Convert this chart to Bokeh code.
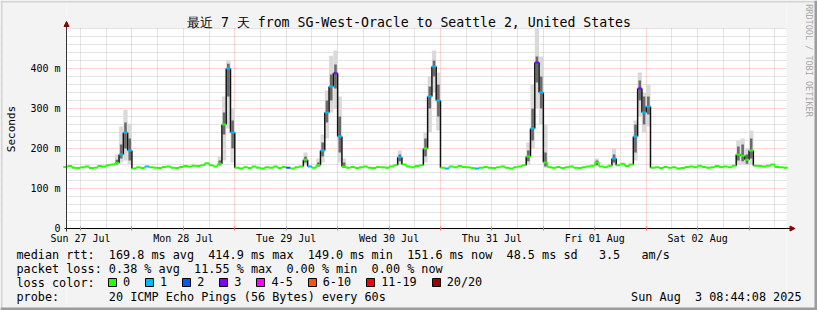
import re
from math import pi
import numpy as np
from bokeh.plotting import figure
from bokeh.models import (ColumnDataSource, FixedTicker, Grid, Legend, LegendItem,
                          Arrow, NormalHead, Range1d, Label)
from bokeh.embed import file_html
from bokeh.resources import INLINE

# ---------------- data ----------------
# time in hours since Sun 27 Jul 2025 00:00
START_H = 8 + 44 / 60 + 8 / 3600          # Sun Jul 27 08:44:08
END_H = START_H + 168                      # Sun Aug  3 08:44:08

hours = list(range(8, 177))
median_ms = [
    154, 156, 152, 151, 153, 155, 151, 152, 156, 155, 158, 160, 164, 185, 240, 195,
    150, 153, 151, 155, 153, 152, 151, 154, 155, 152, 151, 154, 156, 155, 157, 156,
    158, 163, 158, 155, 162, 260, 400, 240,
    152, 150, 153, 151, 155, 152, 150, 153, 152, 155, 151, 154, 152, 150, 153, 155,
    172, 155, 152, 158, 195, 290, 355, 388,
    230, 155, 152, 154, 151, 153, 155, 152, 151, 154, 153, 152, 155, 158, 178, 160,
    155, 153, 156, 158, 200, 330, 405, 320,
    152, 150, 155, 153, 156, 154, 153, 151, 150, 152, 154, 152, 151, 153, 155, 152,
    150, 153, 155, 158, 180, 250, 415, 340,
    165, 153, 152, 154, 151, 153, 155, 152, 151, 153, 155, 157, 165, 155, 153, 157,
    175, 158, 162, 156, 160, 230, 350, 290,
    305, 152, 153, 151, 154, 152, 153, 150, 151, 154, 155, 153, 157, 154, 152, 153,
    156, 154, 155, 153, 157, 185, 182, 172,
    195, 157, 156, 155, 157, 160, 154, 153, 152,
]
loss_idx = [
    0, 0, 0, 0, 0, 0, 0, 0, 0, 0, 0, 0, 0, 1, 1, 1,
    0, 0, 0, 1, 0, 0, 0, 0, 0, 0, 0, 0, 0, 0, 0, 0, 0, 0, 0, 0, 0, 0, 1, 1,
    0, 0, 0, 0, 0, 0, 0, 0, 0, 0, 0, 0, 2, 0, 0, 0, 0, 1, 0, 0, 1, 1, 1, 3,
    1, 0, 0, 0, 0, 0, 0, 0, 0, 0, 0, 0, 0, 0, 1, 0, 0, 0, 0, 0, 0, 1, 1, 1,
    0, 1, 0, 0, 0, 0, 0, 0, 1, 0, 0, 0, 0, 0, 0, 0, 0, 0, 0, 0, 0, 1, 3, 1,
    0, 0, 0, 0, 0, 0, 0, 0, 0, 0, 0, 0, 0, 0, 0, 0, 1, 0, 0, 0, 0, 1, 3, 1,
    1, 0, 0, 0, 0, 0, 0, 0, 0, 0, 0, 0, 0, 0, 0, 0, 0, 0, 0, 0, 0, 0, 0, 0,
    0, 0, 0, 0, 0, 0, 0, 0, 0,
]

smoke_hours = [20, 21, 22, 23, 44, 45, 46, 47, 64, 67, 68, 69, 70, 71, 72, 73, 86,
               92, 93, 94, 95, 116, 117, 118, 119, 120, 132, 136, 141, 142, 143, 144,
               165, 166, 167, 168]
smoke_lo = [158, 165, 170, 160, 155, 170, 250, 165, 160, 153, 165, 225, 290, 300, 165, 150, 160,
            165, 240, 340, 245, 160, 200, 300, 260, 152, 155, 158, 170, 280, 240, 255,
            160, 160, 158, 160]
smoke_hi = [185, 255, 297, 262, 180, 330, 420, 300, 190, 175, 235, 345, 432, 445, 330, 175, 195,
            240, 380, 445, 390, 215, 360, 500, 430, 260, 175, 200, 270, 390, 340, 360,
            220, 225, 200, 245]
core_lo = [160, 175, 200, 170, 158, 235, 330, 200, 165, 155, 180, 265, 320, 350, 190, 152, 168,
           180, 300, 380, 280, 168, 220, 365, 300, 155, 158, 165, 190, 320, 260, 285,
           170, 168, 162, 175]
core_hi = [172, 210, 265, 225, 170, 290, 412, 270, 180, 165, 215, 320, 385, 410, 280, 165, 185,
           225, 355, 420, 360, 195, 300, 430, 380, 190, 170, 185, 260, 370, 330, 330,
           205, 210, 185, 225]

loss_labels = ["0", "1", "2", "3", "4-5", "6-10", "11-19", "20/20"]
loss_colors = ["#26ff00", "#00b8ff", "#0059ff", "#7e00ff", "#ff00ff", "#ff5500", "#ff0000", "#a10000"]

day_labels = ["Sun 27 Jul", "Mon 28 Jul", "Tue 29 Jul", "Wed 30 Jul",
              "Thu 31 Jul", "Fri 01 Aug", "Sat 02 Aug"]
y_ticks = [0, 100, 200, 300, 400]
y_tick_labels = ["0", "100 m", "200 m", "300 m", "400 m"]

title_text = "最近 7 天 from SG-West-Oracle to Seattle 2, United States"
line_rtt = "median rtt:  169.8 ms avg  414.9 ms max  149.0 ms min  151.6 ms now  48.5 ms sd   3.5   am/s"
line_loss = "packet loss: 0.38 % avg  11.55 % max  0.00 % min  0.00 % now"
line_color = "loss color:"
line_probe = "probe:       20 ICMP Echo Pings (56 Bytes) every 60s"
stamp = "Sun Aug  3 08:44:08 2025"
watermark = "RRDTOOL / TOBI OETIKER"
y_label = "Seconds"

MONO = "DejaVu Sans Mono"
BG = "#F3F3F3"

# ---------------- geometry (page pixels) ----------------
W, H = 817, 310
PX_H = 720 / 168            # pixels per hour
LEFT_PX = 66                # page x of START_H
BASE_PY = 228               # page y of 0 ms
UPP = 2.5                   # ms per pixel


def xv(px):
    return START_H + (px - LEFT_PX) / PX_H


def yv(py):
    return (BASE_PY - py) * UPP


X_MIN, X_MAX = xv(0), xv(W)
Y_MIN, Y_MAX = yv(H), yv(0)

p = figure(x_range=Range1d(X_MIN, X_MAX), y_range=Range1d(Y_MIN, Y_MAX),
           frame_width=W, frame_height=H,
           min_border_left=0, min_border_right=0, min_border_top=0, min_border_bottom=0,
           output_backend="svg", toolbar_location=None,
           background_fill_color="white", border_fill_color=BG,
           outline_line_color=None)
p.xgrid.visible = False
p.ygrid.visible = False

noon_ticks = [12 + 24 * d for d in range(7)]
midnight_ticks = [24 * d for d in range(1, 8)]
six_ticks = [h for h in range(6, 177, 6) if h % 24 != 0]
minor_y = [v for v in range(20, 501, 20) if v % 100 != 0] + [500]

minor_col, minor_alpha = "#b0b0b0", 0.7
major_col, major_alpha = "#ff0000", 0.33
p.add_layout(Grid(dimension=0, ticker=FixedTicker(ticks=six_ticks),
                  grid_line_color=minor_col, grid_line_alpha=minor_alpha, grid_line_dash="1 1"))
p.add_layout(Grid(dimension=1, ticker=FixedTicker(ticks=minor_y),
                  grid_line_color=minor_col, grid_line_alpha=minor_alpha, grid_line_dash="1 1"))
p.add_layout(Grid(dimension=0, ticker=FixedTicker(ticks=midnight_ticks),
                  grid_line_color=major_col, grid_line_alpha=major_alpha, grid_line_dash="1 1"))
p.add_layout(Grid(dimension=1, ticker=FixedTicker(ticks=y_ticks[1:]),
                  grid_line_color=major_col, grid_line_alpha=major_alpha, grid_line_dash="1 1"))

# grey page around the white 7-day / 0..500 canvas
top_edge = 500 + 0.5 * UPP
p.quad(left=[X_MIN, END_H, START_H, START_H], right=[START_H, X_MAX, END_H, END_H],
       bottom=[Y_MIN, Y_MIN, top_edge, Y_MIN], top=[Y_MAX, Y_MAX, Y_MAX, 0],
       fill_color=BG, line_color=None)
# 3-D shading of the page border
p.quad(left=[X_MIN, X_MIN], right=[X_MAX, xv(2)], bottom=[yv(2), Y_MIN], top=[Y_MAX, Y_MAX],
       fill_color="#d4d4d4", line_color=None)
p.quad(left=[X_MIN, xv(W - 3)], right=[X_MAX, X_MAX], bottom=[Y_MIN, Y_MIN], top=[yv(H - 3), Y_MAX],
       fill_color="#9c9c9c", line_color=None)

# x axis
xa = p.xaxis[0]
xa.fixed_location = 0
xa.bounds = (xv(64), xv(790))
xa.ticker = FixedTicker(ticks=noon_ticks, minor_ticks=midnight_ticks)
xa.major_label_overrides = {t: lab for t, lab in zip(noon_ticks, day_labels)}
xa.axis_line_color = "#000000"
xa.major_tick_line_color = "#999999"
xa.major_tick_out = 2
xa.major_tick_in = 2
xa.minor_tick_line_color = "#ff6666"
xa.minor_tick_out = 2
xa.minor_tick_in = 2
xa.major_label_standoff = 2
xa.major_label_text_font = MONO
xa.major_label_text_font_size = "10px"
xa.major_label_text_color = "#000000"

# y axis
ya = p.yaxis[0]
ya.fixed_location = START_H
ya.bounds = (yv(231), yv(25))
ya.ticker = FixedTicker(ticks=y_ticks)
ya.major_label_overrides = {t: lab for t, lab in zip(y_ticks, y_tick_labels)}
ya.axis_line_color = "#333333"
ya.major_tick_out = 0
ya.major_tick_in = 0
ya.minor_tick_line_color = None
ya.major_tick_line_color = None
ya.major_label_standoff = 6
ya.major_label_text_font = MONO
ya.major_label_text_font_size = "10px"
ya.major_label_text_color = "#000000"

# ---------------- smoke ----------------
sh = np.array(smoke_hours, float)
smoke_src = ColumnDataSource(dict(left=sh, right=sh + 1, lo=smoke_lo, hi=smoke_hi,
                                  clo=core_lo, chi=core_hi, cl=sh + 0.2, cr=sh + 0.8))
p.quad(left="left", right="right", bottom="lo", top="hi", source=smoke_src,
       fill_color="#dadada", line_color=None)
p.quad(left="cl", right="cr", bottom="clo", top="chi", source=smoke_src,
       fill_color="#6a6a6a", line_color=None)

# ---------------- median line ----------------
t = np.array(hours, float)
med = np.array(median_ms, float)
cols = [loss_colors[i] for i in loss_idx]
vcol = [loss_colors[0] if max(a, b) < 170 else "#111111" for a, b in zip(med[:-1], med[1:])]
p.segment(x0=t[1:], y0=med[:-1], x1=t[1:], y1=med[1:], line_color=vcol, line_width=1.5)
p.segment(x0=t, y0=med, x1=t + 1, y1=med, line_color=cols, line_width=2)

# ---------------- axis arrows ----------------
arrow_col = "#8b0000"
p.add_layout(Arrow(end=NormalHead(size=5, fill_color=arrow_col, line_color=arrow_col),
                   x_start=START_H, y_start=500, x_end=START_H, y_end=yv(21),
                   line_color="#333333", line_width=1))
p.add_layout(Arrow(end=NormalHead(size=5, fill_color=arrow_col, line_color=arrow_col),
                   x_start=END_H, y_start=0, x_end=xv(794.5), y_end=0,
                   line_color="#000000", line_width=1))


# ---------------- texts ----------------
def keep_spaces(s):
    return re.sub(r" {2,}", lambda m: "\u00a0" * len(m.group()), s)


def put(text, px, py, size, align="left", angle=0.0, color="#000000"):
    p.add_layout(Label(x=px, y=H - py, x_units="screen", y_units="screen",
                       text=keep_spaces(text), text_font=MONO, text_font_size=size,
                       text_align=align, text_baseline="middle", angle=angle,
                       text_color=color))


put(title_text, 408.5, 21.5, "13.2px", align="center")
put(y_label, 10.5, 128.5, "11px", align="center", angle=pi / 2)
put(line_rtt, 16, 254.3, "11.8px")
put(line_loss, 16, 268.3, "11.8px")
put(line_color, 16, 282.3, "11.8px")
put(line_probe, 16, 296.3, "11.8px")
put(stamp, 801, 296.3, "11.8px", align="right")
put(watermark, 808, 60, "8.5px", align="center", angle=-pi / 2, color="#a8a8a8")

# loss colour legend swatches (renderer holds no drawable rows)
swatch_src = ColumnDataSource(dict(left=[np.nan] * len(loss_colors), right=[np.nan] * len(loss_colors),
                                   top=[np.nan] * len(loss_colors), bottom=[np.nan] * len(loss_colors),
                                   color=loss_colors))
swatch = p.quad(left="left", right="right", top="top", bottom="bottom", source=swatch_src,
                fill_color="color", line_color="#000000", line_width=1)
items = [LegendItem(label=lab, renderers=[swatch], index=i) for i, lab in enumerate(loss_labels)]
legend = Legend(items=items, orientation="horizontal", location=(107, 21),
                glyph_width=10, glyph_height=10, label_standoff=6, spacing=14,
                padding=0, margin=0, border_line_color=None, background_fill_alpha=0,
                label_text_font=MONO, label_text_font_size="11.8px", label_text_color="#000000",
                label_width=0, label_height=8)
p.add_layout(legend, "center")

open("out.html", "w").write(file_html(p, INLINE))
